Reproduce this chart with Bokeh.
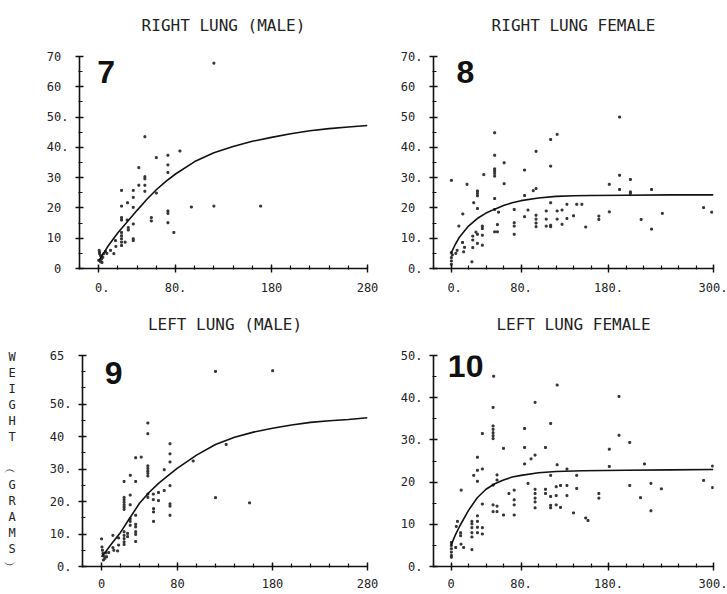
from bokeh.plotting import figure
from bokeh.models import FixedTicker, Label, Range1d, LinearAxis
from bokeh.layouts import column, row
from bokeh.embed import file_html
from bokeh.resources import INLINE

NB = "\u00a0"
MONO = "DejaVu Sans Mono"

# ---------------- titles / labels ----------------
title_7 = "RIGHT LUNG (MALE)"
title_8 = "RIGHT LUNG FEMALE"
title_9 = "LEFT LUNG (MALE)"
title_10 = "LEFT LUNG FEMALE"
y_axis_title_chars = ["W", "E", "I", "G", "H", "T", NB, "\ufe35", "G", "R", "A", "M", "S", "\ufe36"]

# ---------------- axis ticks ----------------
x_ticks_male = [0, 80, 180, 280]
x_ticks_female = [0, 80, 180, 300]
x_labels_7 = [NB + "0.", "80.", "180", "280"]
x_labels_8 = [NB + "0.", "80.", "180.", "300."]
x_labels_9 = ["0", "80", "180", "280"]
x_labels_10 = ["0", "80.", "180.", "300."]

y_ticks_7 = [0, 10, 20, 30, 40, 50, 60, 70]
y_labels_7 = ["0" + NB, "10" + NB, "20" + NB, "30" + NB, "40.", "50.", "60" + NB, "70" + NB]
y_ticks_8 = [0, 10, 20, 30, 40, 50, 60, 70]
y_labels_8 = ["0.", "10.", "20" + NB, "30.", "40.", "50" + NB, "60" + NB, "70."]
y_ticks_9 = [0, 10, 20, 30, 40, 50, 65]
y_labels_9 = ["0.", "10.", "20.", "30.", "40" + NB, "50.", "65" + NB]
y_ticks_10 = [0, 10, 20, 30, 40, 50]
y_labels_10 = ["0.", "10" + NB, "20" + NB, "30.", "40.", "50."]

# ---------------- data: panel 7, right lung male ----------------
age_7 = [0.9, 1.9, 3.0, 4.3, 0.1, 5.3, 1.9, 7.1, 8.6, 0.9, 2.5, 3.5, 0.5,
         12.3, 15.8, 17.5, 17.9,
         23.8, 23.8, 23.8, 23.8, 23.8, 23.8, 23.8, 23.8, 23.8,
         27.5, 29.7, 30.0, 30.8, 30.8,
         36, 36, 36, 36, 36, 36,
         41.8, 41.8,
         48.1, 48.1, 48.1, 48.1, 48.1,
         54.8, 54.8, 60, 60,
         72.1, 72.1, 72.1, 72.1, 72.1, 72.1,
         78.3, 84.6, 96.5, 120, 120, 168.7]
wt_7 = [5.4, 4.3, 3.3, 3.7, 2.7, 4.9, 2.2, 5.6, 5.0, 4.9, 3.0, 2.0, 6.0,
        6.0, 4.9, 9.2, 7.3,
        25.8, 20.6, 16.8, 16.0, 11.9, 10.8, 9.8, 8.7, 7.6,
        8.7, 16.0, 21.7, 13.5, 12.7,
        25.8, 23.5, 20.2, 14.7, 9.8, 9.2,
        33.3, 27.5,
        43.5, 30.3, 29.6, 27.5, 25.5,
        16.8, 15.7, 36.6, 24.9,
        37.4, 34.2, 31.7, 19.0, 18.2, 15.1,
        11.9, 38.8, 20.3, 67.8, 20.6, 20.6]
fit_age_7 = [0, 5, 10, 20, 30, 40, 50, 60, 70, 80, 100, 120, 140, 160, 180, 200, 220, 240, 260, 280]
fit_wt_7 = [2.5, 5.0, 7.5, 11.8, 15.5, 19.2, 22.8, 26.0, 28.8, 31.2, 35.3, 38.2, 40.3, 42.0, 43.3,
            44.5, 45.5, 46.2, 46.7, 47.2]

# ---------------- data: panel 8, right lung female ----------------
age_8 = [0.4, 0.4, 0.4, 0.4, 0.4, 1.5,
         5.5, 7.0, 9.0, 13.5, 13.2, 15.5, 14.5, 18.3,
         23.9, 24.9, 24.9, 24.9, 26.0,
         30.2, 30.2, 30.2, 30.2, 30.2, 28.5, 30.2,
         35.8, 35.8, 35.8, 35.8, 37.5,
         49.9, 49.9, 49.9, 49.9, 49.9, 49.9, 49.9, 49.9, 54.3, 53.0, 49.9, 53.0,
         60.7, 60.7,
         72.2, 72.2, 72.2, 72.2,
         84.1, 84.1, 84.1, 88.0, 94.0,
         97.2, 97.2, 97.2, 97.2, 97.2, 97.2,
         108.8, 108.8, 108.8,
         113.9, 113.9, 113.9, 113.9, 113.9,
         121.3, 121.3, 121.3, 126.9, 126.9,
         132.5, 132.5, 140.0, 143.7, 149.6,
         154.0, 169.0, 169.0, 180.9, 180.9,
         192.7, 192.7, 192.7, 205.0, 205.0, 205.0,
         217.3, 229.2, 229.2, 241.5, 288.7, 298.0]
wt_8 = [29.1, 5.2, 3.6, 2.5, 1.4, 4.5,
        5.0, 6.0, 14.0, 18.0, 8.6, 7.0, 5.5, 27.8,
        2.2, 10.7, 9.4, 6.9, 21.7,
        25.6, 24.8, 24.0, 19.8, 11.3, 12.0, 8.3,
        14.0, 13.2, 11.0, 7.7, 31.0,
        44.8, 37.4, 32.9, 32.2, 31.4, 30.5, 23.1, 19.5, 18.6, 14.5, 12.1, 12.1,
        34.9, 28.0,
        19.5, 15.1, 14.0, 11.3,
        32.5, 24.1, 17.1, 19.3, 25.7,
        38.7, 26.4, 17.6, 16.3, 15.0, 13.8,
        19.0, 16.3, 14.0,
        42.6, 33.8, 21.7, 14.3, 13.8,
        44.3, 19.0, 16.3, 19.3, 14.6,
        21.2, 16.5, 17.4, 21.2, 21.2,
        13.7, 17.3, 16.2, 27.8, 18.7,
        50.0, 30.8, 26.1, 29.4, 25.3, 24.8,
        16.2, 26.1, 13.0, 18.2, 20.1, 18.6]
fit_age_8 = [0, 5, 10, 20, 30, 40, 50, 60, 70, 80, 100, 120, 140, 160, 200, 250, 300]
fit_wt_8 = [5.0, 8.0, 10.5, 14.0, 16.5, 18.3, 19.6, 20.8, 21.7, 22.4, 23.3, 23.8, 24.0, 24.1, 24.2,
            24.3, 24.3]

# ---------------- data: panel 9, left lung male ----------------
age_9 = [0.1, 0.5, 1.0, 1.5, 2.5, 3.5, 4.5, 5.3, 2.0, 7.6,
         12.0, 12.0, 13.0, 17.0, 18.0, 18.0,
         23.8, 23.8, 23.8, 23.8, 23.8, 23.8, 23.8, 23.8, 23.8, 23.8, 23.8, 23.8,
         27.5, 27.5,
         30.3, 30.2, 30.2, 30.2, 30.2, 30.2,
         36, 36, 36, 36, 36, 36, 36, 36,
         41.8,
         48.8, 48.8, 48.8, 48.8, 48.8, 48.8, 48.8, 48.8, 48.8,
         54.5, 54.5, 54.8, 54.8, 54.8,
         60, 60, 66, 66,
         72.1, 72.1, 72.1, 72.1, 72.1, 72.1, 72.1,
         96.5, 120, 120, 131.2, 155.9, 180.2]
wt_9 = [8.5, 6.0, 5.0, 4.0, 3.2, 2.5, 4.2, 3.0, 2.0, 4.3,
        9.6, 5.8, 5.0, 4.8, 8.8, 6.6,
        21.3, 20.6, 19.8, 19.0, 18.3, 17.6, 26.2, 10.7, 9.6, 8.6, 7.6, 6.8,
        10.2, 9.2,
        28.1, 22.0, 19.0, 14.7, 13.9, 12.7,
        33.5, 26.2, 15.8, 13.0, 12.2, 10.7, 9.9, 7.7,
        33.7,
        44.2, 40.9, 31.0, 30.2, 29.4, 28.7, 27.9, 22.3, 21.3,
        22.3, 20.6, 17.8, 16.8, 13.9,
        22.8, 20.3, 29.8, 23.4,
        37.8, 34.7, 32.2, 24.9, 19.3, 18.6, 15.8,
        32.5, 60.1, 21.2, 37.6, 19.6, 60.3]
fit_age_9 = [0, 5, 10, 20, 30, 40, 50, 60, 70, 80, 100, 120, 140, 160, 180, 200, 220, 240, 260, 280]
fit_wt_9 = [3.0, 4.8, 6.8, 10.5, 15.0, 19.5, 22.8, 25.6, 28.0, 30.3, 34.3, 37.6, 39.8, 41.4, 42.6,
            43.6, 44.4, 44.9, 45.3, 45.8]

# ---------------- data: panel 10, left lung female ----------------
age_10 = [0.4, 0.4, 0.4, 0.4, 0.4, 0.4,
          5.4, 6.0, 7.4, 11.0, 11.0, 11.5, 14.5, 11.6,
          23.9, 23.9, 23.9, 23.9, 23.9, 23.9,
          26.0, 30.2, 30.2, 30.2, 30.2, 30.2, 30.2, 30.2,
          35.8, 35.8, 35.8, 35.8, 35.8,
          48.1, 48.1, 48.1, 48.1, 48.1, 48.1, 48.1, 48.1, 48.1, 48.8,
          52.6, 52.6, 52.6, 52.6,
          60.0, 60.0, 66.2,
          72.2, 72.2, 72.2, 72.2,
          84.1, 84.1, 84.1, 88.0, 91.5,
          96.1, 96.1, 96.1, 96.1, 96.1, 96.1, 96.1,
          108.0, 108.0, 108.0,
          113.9, 113.9, 113.9, 113.9, 113.9,
          120.2, 120.2, 120.2, 121.3, 121.3,
          125.2, 125.2, 132.5, 132.5, 132.5,
          140.0, 143.7, 143.7, 154.0, 156.6,
          169.0, 169.0, 180.9, 180.9,
          192.0, 192.0, 204.3, 204.3, 216.6, 221.1,
          228.5, 228.5, 240.4, 288.7, 299.0, 299.0]
wt_10 = [5.7, 5.0, 4.2, 3.4, 2.6, 2.2,
         4.5, 9.5, 10.7, 8.0, 7.3, 5.3, 4.5, 18.1,
         10.7, 10.1, 9.2, 8.0, 7.0, 4.0,
         21.6, 25.9, 22.8, 20.2, 12.0, 10.7, 9.3, 8.0,
         31.5, 23.1, 14.8, 9.2, 7.7,
         37.7, 33.3, 32.5, 31.7, 31.0, 30.3, 19.3, 14.6, 13.0, 45.1,
         21.7, 20.5, 14.3, 13.0,
         28.0, 12.2, 17.3,
         18.1, 15.8, 14.6, 12.2,
         32.7, 28.2, 24.3, 19.7, 25.5,
         38.9, 26.4, 18.3, 17.3, 16.2, 15.3, 13.9,
         28.2, 18.3, 17.3,
         33.9, 21.6, 16.6, 14.5, 13.9,
         18.9, 16.8, 14.6, 43.0, 24.1,
         19.2, 14.0, 23.1, 19.2, 16.8,
         12.7, 21.6, 18.5, 11.5, 10.9,
         17.3, 16.2, 27.8, 23.7,
         40.3, 31.1, 29.4, 19.2, 16.3, 24.3,
         19.7, 13.2, 18.4, 20.4, 23.8, 18.7]
fit_age_10 = [0, 5, 10, 20, 30, 40, 50, 60, 70, 80, 100, 120, 150, 200, 250, 300]
fit_wt_10 = [5.0, 7.5, 9.6, 13.3, 16.3, 18.3, 19.6, 20.5, 21.2, 21.6, 22.2, 22.5, 22.7, 22.8, 22.9, 23.0]


def make_panel(title, xlim, ymax, xt, xl, yt, yl, age, wt, fx, fy, num, num_x, num_y,
               width, border):
    left, right, top, bottom = border
    p = figure(width=width, height=297, x_range=Range1d(*xlim), y_range=Range1d(0, ymax),
               output_backend="svg", toolbar_location=None,
               min_border_left=left, min_border_right=right,
               min_border_top=top, min_border_bottom=bottom)
    p.outline_line_color = None
    p.xgrid.visible = False
    p.ygrid.visible = False
    p.background_fill_color = "white"
    p.border_fill_color = "white"

    xax = p.below[0]
    yax = p.left[0]
    xax.ticker = FixedTicker(ticks=xt, minor_ticks=list(range(xlim[0], xlim[1] + 1, 20)))
    xax.major_label_overrides = dict(zip(xt, xl))
    yax.ticker = FixedTicker(ticks=yt, minor_ticks=list(range(0, ymax + 1, 5)))
    yax.major_label_overrides = dict(zip(yt, yl))
    for ax in (xax, yax):
        ax.axis_line_color = "#111111"
        ax.axis_line_width = 1.6
        ax.major_tick_line_color = "#111111"
        ax.minor_tick_line_color = "#111111"
        ax.major_tick_line_width = 1.4
        ax.minor_tick_line_width = 1.2
        ax.major_tick_in = 4
        ax.major_tick_out = 4
        ax.minor_tick_in = 3
        ax.minor_tick_out = 1
        ax.major_label_text_font = MONO
        ax.major_label_text_font_size = "12px"
        ax.major_label_text_color = "#222222"
    xax.major_label_standoff = 8
    yax.major_label_standoff = 7

    # panel heading, drawn as the label of a bare axis above the frame
    head = LinearAxis(ticker=FixedTicker(ticks=[], minor_ticks=[]), axis_line_color=None,
                      major_tick_line_color=None, minor_tick_line_color=None,
                      major_tick_out=0, major_tick_in=0, minor_tick_out=0, minor_tick_in=0,
                      major_label_standoff=0,
                      axis_label=title, axis_label_standoff=22,
                      axis_label_text_font=MONO, axis_label_text_font_size="16px",
                      axis_label_text_font_style="normal", axis_label_text_color="#222222")
    p.add_layout(head, "above")

    p.scatter(age, wt, marker="square", size=1.9, color="#333333")
    p.line(fx, fy, line_width=1.6, color="#111111")
    p.add_layout(Label(x=num_x, y=num_y, text=num, text_font="Liberation Sans",
                       text_font_style="bold", text_font_size="32px", text_color="#111111",
                       text_baseline="alphabetic", text_align="left"))
    return p


p7 = make_panel(title_7, (-20, 280), 70, x_ticks_male, x_labels_7, y_ticks_7, y_labels_7,
                age_7, wt_7, fit_age_7, fit_wt_7, "7", -1.5, 65.0, 397, (79, 30, 54, 29))
p8 = make_panel(title_8, (-20, 300), 70, x_ticks_female, x_labels_8, y_ticks_8, y_labels_8,
                age_8, wt_8, fit_age_8, fit_wt_8, "8", 6.2, 64.8, 330, (30, 14, 56, 28))
p9 = make_panel(title_9, (-20, 280), 65, x_ticks_male, x_labels_9, y_ticks_9, y_labels_9,
                age_9, wt_9, fit_age_9, fit_wt_9, "9", 3.4, 59.6, 397, (79, 30, 58, 26))
p10 = make_panel(title_10, (-20, 300), 50, x_ticks_female, x_labels_10, y_ticks_10, y_labels_10,
                 age_10, wt_10, fit_age_10, fit_wt_10, "10", -3.6, 47.6, 330, (30, 14, 55, 28))

# stacked, upright vertical axis title on the lower-left panel
ax9 = p9.left[0]
ax9.axis_label = "\n".join(y_axis_title_chars)
ax9.axis_label_orientation = "horizontal"
ax9.axis_label_text_font = MONO
ax9.axis_label_text_font_size = "12px"
ax9.axis_label_text_font_style = "normal"
ax9.axis_label_text_color = "#222222"
ax9.axis_label_text_line_height = 1.14
ax9.axis_label_standoff = 31

layout = column(row(p7, p8), row(p9, p10))
open("out.html", "w").write(file_html(layout, INLINE))
